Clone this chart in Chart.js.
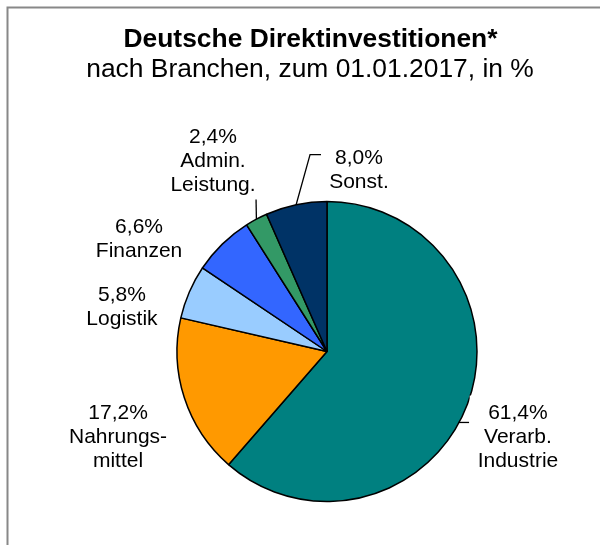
<!DOCTYPE html>
<html>
<head>
<meta charset="utf-8">
<script src="https://cdn.jsdelivr.net/npm/chart.js@4/dist/chart.umd.min.js"></script>
<style>
    html, body { margin: 0; padding: 0; background: #fff; }
    #wrap { position: relative; width: 600px; height: 545px; }
</style>
</head>
<body>
<div id="wrap"><canvas id="pie"></canvas></div>
<script>
// slices clockwise from 12 o'clock
const categories = ['Verarb. Industrie', 'Nahrungsmittel', 'Logistik', 'Finanzen', 'Admin. Leistung.', 'Sonst.'];
// slice sizes as drawn in the picture (the "Sonst." slice is the remainder to 100)
const shares = [61.4, 17.2, 5.8, 6.6, 2.4, 6.6];
// label texts as printed
const shareLabels = ['61,4%', '17,2%', '5,8%', '6,6%', '2,4%', '8,0%'];
const nameLines = [['Verarb.', 'Industrie'], ['Nahrungs-', 'mittel'], ['Logistik'], ['Finanzen'], ['Admin.', 'Leistung.'], ['Sonst.']];
const sliceColors = ['#008080', '#FF9900', '#99CCFF', '#3366FF', '#339966', '#003366'];

const titleText = 'Deutsche Direktinvestitionen*';
const subtitleText = 'nach Branchen, zum 01.01.2017, in %';

const FONT = '"Liberation Sans", Arial, sans-serif';

// label anchors (centre x, first baseline) in units of the pie radius, from the pie centre
const labelAnchor = [[1.273, 0.447], [-1.393, 0.453], [-1.367, -0.34], [-1.253, -0.787], [-0.76, -1.393], [0.213, -1.253]];
// leader lines, 'mid' = middle of the slice on the rim
const leaders = {
    0: [[0.877, 0.473], [0.947, 0.473]],
    4: ['mid', [-0.473, -1.013]],
    5: ['mid', [-0.113, -1.313], [-0.04, -1.313]]
};

const decor = {
    id: 'decor',
    beforeDraw(chart) {
        const ctx = chart.ctx;
        ctx.save();
        ctx.strokeStyle = '#888';
        ctx.lineWidth = 2;
        ctx.beginPath();
        ctx.moveTo(7.5, chart.height);
        ctx.lineTo(7.5, 7.5);
        ctx.lineTo(chart.width, 7.5);
        ctx.stroke();
        ctx.restore();
    },
    afterDatasetsDraw(chart) {
        const ctx = chart.ctx;
        const arcs = chart.getDatasetMeta(0).data;
        ctx.save();
        arcs.forEach((arc, i) => {
            const { x, y, outerRadius: r, startAngle, endAngle } = arc.getProps(['x', 'y', 'outerRadius', 'startAngle', 'endAngle'], true);
            const lines = [shareLabels[i], ...nameLines[i]];
            const tx = x + labelAnchor[i][0] * r;
            const ty = y + labelAnchor[i][1] * r;
            ctx.font = '21px ' + FONT;
            const w = Math.max(...lines.map(l => ctx.measureText(l).width));
            ctx.fillStyle = '#fff';
            ctx.fillRect(tx - w / 2 - 8, ty - 23, w + 16, (lines.length - 1) * 24 + 31);

            if (leaders[i]) {
                const mid = (startAngle + endAngle) / 2;
                ctx.strokeStyle = '#000';
                ctx.lineWidth = 1.3;
                ctx.beginPath();
                leaders[i].forEach((p, k) => {
                    const px = p === 'mid' ? x + Math.cos(mid) * r : x + p[0] * r;
                    const py = p === 'mid' ? y + Math.sin(mid) * r : y + p[1] * r;
                    if (k === 0) ctx.moveTo(px, py); else ctx.lineTo(px, py);
                });
                ctx.stroke();
            }

            ctx.fillStyle = '#000';
            ctx.textAlign = 'center';
            ctx.textBaseline = 'alphabetic';
            lines.forEach((l, k) => ctx.fillText(l, tx, ty + k * 24));
        });

        ctx.textAlign = 'center';
        ctx.fillStyle = '#000';
        ctx.font = 'bold 26.4px ' + FONT;
        ctx.fillText(titleText, 310.5, 47);
        ctx.font = '26.4px ' + FONT;
        ctx.fillText(subtitleText, 310, 77);
        ctx.restore();
    }
};

new Chart(document.getElementById('pie'), {
    type: 'pie',
    data: {
        labels: categories,
        datasets: [{
            data: shares,
            backgroundColor: sliceColors,
            borderColor: '#000',
            borderWidth: 1.5
        }]
    },
    options: {
        responsive: true,
        maintainAspectRatio: false,
        animation: false,
        radius: 150,
        layout: { padding: { left: 177, right: 123, top: 201, bottom: 43 } },
        plugins: {
            legend: { display: false },
            tooltip: { enabled: false }
        }
    },
    plugins: [decor]
});
</script>
</body>
</html>
